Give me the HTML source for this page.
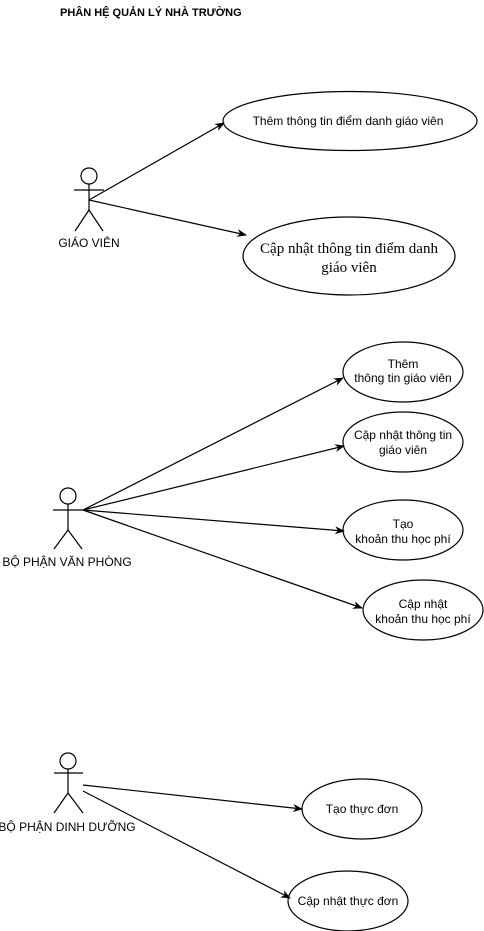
<!DOCTYPE html>
<html><head><meta charset="utf-8"><style>
html,body{margin:0;padding:0;background:#fff;}
svg{display:block;}
text{font-family:"Liberation Sans",sans-serif;font-size:12px;fill:#000;}
.s{font-family:"Liberation Serif",serif;font-size:15px;}
</style></head><body>
<svg width="484" height="931" viewBox="0 0 484 931" xmlns="http://www.w3.org/2000/svg">
<defs><marker id="a" markerWidth="10" markerHeight="8" refX="9" refY="4" orient="auto" markerUnits="userSpaceOnUse"><path d="M0,0 L10,4 L0,8 L3,4 z" fill="#000"/></marker></defs>
<text x="60" y="16" style="font-size:11px;font-weight:bold">PHÂN HỆ QUẢN LÝ NHÀ TRƯỜNG</text>
<g stroke="#000" stroke-width="1.2" fill="none">
<!-- actor 1 -->
<circle cx="89" cy="176" r="8" fill="#fff"/>
<line x1="89" y1="184" x2="89" y2="210"/><line x1="74" y1="190" x2="104" y2="190"/>
<line x1="89" y1="210" x2="75" y2="231"/><line x1="89" y1="210" x2="103" y2="231"/>
<!-- actor 2 -->
<circle cx="68" cy="496" r="8" fill="#fff"/>
<line x1="68" y1="504" x2="68" y2="530"/><line x1="53" y1="510" x2="83" y2="510"/>
<line x1="68" y1="530" x2="54" y2="549"/><line x1="68" y1="530" x2="82" y2="549"/>
<!-- actor 3 -->
<circle cx="68" cy="761" r="8" fill="#fff"/>
<line x1="68" y1="769" x2="68" y2="793"/><line x1="54" y1="773" x2="83" y2="773"/>
<line x1="68" y1="793" x2="54" y2="813"/><line x1="68" y1="793" x2="83" y2="813"/>
<!-- ellipses -->
<ellipse cx="350" cy="121" rx="127" ry="29.5"/>
<ellipse cx="349" cy="256" rx="106" ry="39"/>
<ellipse cx="403" cy="372" rx="60" ry="30"/>
<ellipse cx="403" cy="442" rx="60" ry="30"/>
<ellipse cx="403" cy="530" rx="60" ry="30"/>
<ellipse cx="423" cy="610" rx="60" ry="30"/>
<ellipse cx="362" cy="809" rx="60" ry="30"/>
<ellipse cx="348" cy="901" rx="60" ry="30"/>
<!-- connectors -->
<g marker-end="url(#a)">
<line x1="89" y1="200" x2="224" y2="123"/>
<line x1="89" y1="200" x2="246" y2="235"/>
<line x1="83" y1="510" x2="343" y2="378"/>
<line x1="83" y1="510" x2="344" y2="446"/>
<line x1="83" y1="510" x2="344" y2="531"/>
<line x1="83" y1="510" x2="362" y2="608"/>
<line x1="83" y1="785" x2="302" y2="809"/>
<line x1="83" y1="791" x2="290" y2="898"/>
</g>
</g>
<g text-anchor="middle">
<text x="89" y="247">GIÁO VIÊN</text>
<text x="67" y="566">BỘ PHẬN VĂN PHÒNG</text>
<text x="67" y="831">BỘ PHẬN DINH DƯỠNG</text>
<text x="348" y="125">Thêm thông tin điểm danh giáo viên</text>
<text class="s" x="349" y="253">Cập nhật thông tin điểm danh</text>
<text class="s" x="349" y="272">giáo viên</text>
<text x="403" y="368">Thêm</text>
<text x="403" y="382">thông tin giáo viên</text>
<text x="403" y="439">Cập nhật thông tin</text>
<text x="403" y="454">giáo viên</text>
<text x="403" y="528">Tạo</text>
<text x="403" y="543">khoản thu học phí</text>
<text x="423" y="608">Cập nhật</text>
<text x="423" y="623">khoản thu học phí</text>
<text x="362" y="813">Tạo thực đơn</text>
<text x="348" y="905">Cập nhật thực đơn</text>
</g>
</svg>
</body></html>
